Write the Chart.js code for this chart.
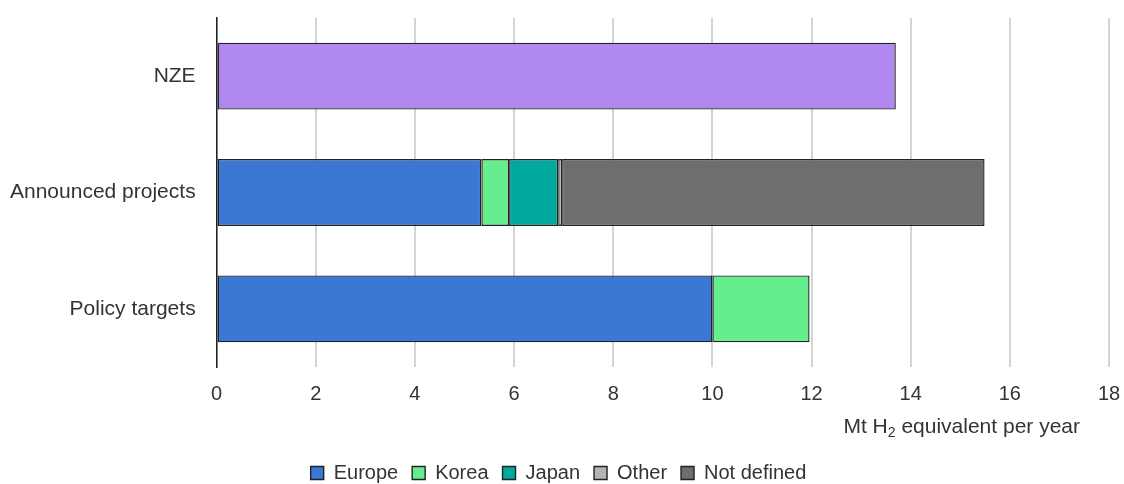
<!DOCTYPE html>
<html>
<head>
<meta charset="utf-8">
<script src="https://cdn.jsdelivr.net/npm/chart.js@4"></script>
<style>
  html, body { margin: 0; padding: 0; background: #fff; }
  #wrap { width: 1124px; height: 484px; }
</style>
</head>
<body>
<div id="wrap"><canvas id="c"></canvas></div>
<script>
(function () {
  'use strict';

  var categories = ['NZE', 'Announced projects', 'Policy targets'];
  var xTicks = [0, 2, 4, 6, 8, 10, 12, 14, 16, 18];

  var nze = [13.7, null, null];
  var europe = [null, 5.34, 10.0];
  var korea = [null, 0.56, 1.96];
  var japan = [null, 0.99, null];
  var other = [null, 0.08, null];
  var notDefined = [null, 8.52, null];

  var fontFamily = '"Liberation Sans", Arial, sans-serif';

  function series(label, data, color) {
    return {
      label: label,
      data: data,
      backgroundColor: color,
      borderColor: '#222222',
      borderWidth: 1.4,
      borderSkipped: false,
      barPercentage: 0.575,
      categoryPercentage: 1
    };
  }

  // axis title with a real subscript 2
  var axisTitle = {
    id: 'axisTitle',
    afterDraw: function (chart) {
      var ctx = chart.ctx;
      var x = chart.scales.x;
      var right = x.getPixelForValue(18) - 29;
      var y = 427;
      ctx.save();
      ctx.fillStyle = '#333333';
      ctx.textBaseline = 'middle';
      var a = 'Mt H', b = ' equivalent per year';
      ctx.font = '14px ' + fontFamily;
      var wSub = ctx.measureText('2').width;
      ctx.font = '21px ' + fontFamily;
      var wA = ctx.measureText(a).width, wB = ctx.measureText(b).width;
      var left = right - (wA + wSub + wB);
      ctx.textAlign = 'left';
      ctx.fillText(a, left, y);
      ctx.font = '14px ' + fontFamily;
      ctx.fillText('2', left + wA, y + 6);
      ctx.font = '21px ' + fontFamily;
      ctx.fillText(b, left + wA + wSub, y);
      ctx.restore();
    }
  };

  new Chart(document.getElementById('c'), {
    type: 'bar',
    data: {
      labels: categories,
      datasets: [
        series('NZE', nze, '#b088f0'),
        series('Europe', europe, '#3b78d4'),
        series('Korea', korea, '#66ee8e'),
        series('Japan', japan, '#00a99d'),
        series('Other', other, '#b4b4b4'),
        series('Not defined', notDefined, '#6e6e6e')
      ]
    },
    options: {
      indexAxis: 'y',
      responsive: true,
      maintainAspectRatio: false,
      animation: false,
      layout: { padding: { top: 18, right: 15, left: 8, bottom: -9 } },
      plugins: {
        tooltip: { enabled: false },
        legend: {
          position: 'bottom',
          labels: {
            color: '#333333',
            font: { family: fontFamily, size: 20 },
            boxWidth: 13,
            boxHeight: 13,
            padding: 14,
            filter: function (item) { return item.text !== 'NZE'; }
          }
        }
      },
      scales: {
        x: {
          stacked: true,
          min: 0,
          max: 18,
          afterBuildTicks: function (scale) {
            scale.ticks = xTicks.map(function (v) { return { value: v }; });
          },
          afterFit: function (scale) {
            scale.height += 28;
            scale.paddingLeft = 0;
            scale.paddingRight = 0;
          },
          grid: { color: '#d4d4d4', lineWidth: 2, drawTicks: false },
          border: { display: false },
          ticks: {
            color: '#333333',
            font: { family: fontFamily, size: 20 },
            padding: 15,
            maxRotation: 0
          }
        },
        y: {
          stacked: true,
          afterFit: function (scale) {
            scale.width -= 19;
            scale.paddingTop = 0;
            scale.paddingBottom = 0;
          },
          grid: { display: false, drawTicks: false },
          border: { display: true, color: '#222222', width: 1.5 },
          ticks: {
            color: '#333333',
            font: { family: fontFamily, size: 21 },
            padding: 21
          }
        }
      }
    },
    plugins: [axisTitle]
  });
})();
</script>
</body>
</html>
